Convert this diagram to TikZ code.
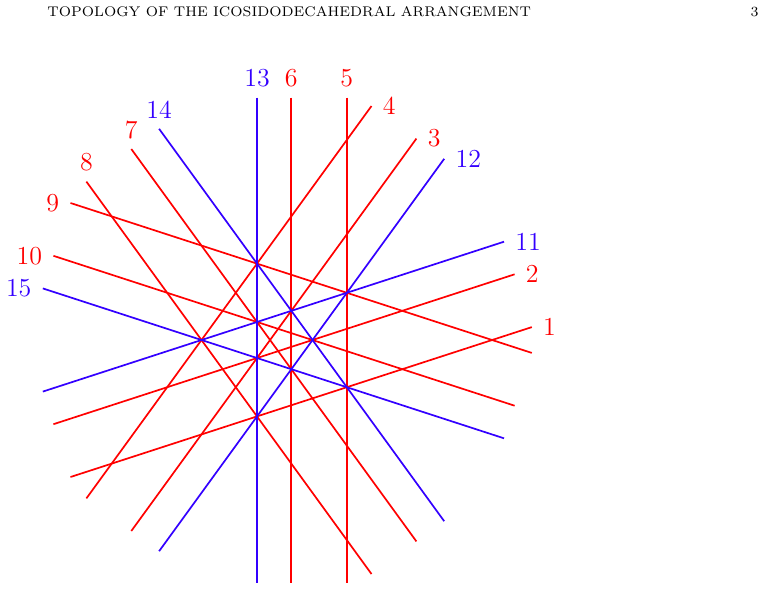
\documentclass[tikz,border=0pt]{standalone}
\usepackage{xcolor}
\usepackage{tikz}
\usetikzlibrary{positioning}

\definecolor{arrred}{RGB}{255,0,0}
\definecolor{arrblue}{RGB}{51,0,255}
\tikzset{
  redline/.style={draw=arrred, line width=1.7pt},
  blueline/.style={draw=arrblue, line width=1.7pt},
  lbl/.style={inner sep=0pt, font=\Large, scale=1.8},
}

\begin{document}
\begin{tikzpicture}[x=1pt, y=-1pt]
    \useasboundingbox (0,0) rectangle (766,590);

    \node[anchor=base west, font=\scriptsize, scale=2, inner sep=0pt] (head) at (47,16) {TOPOLOGY OF THE ICOSIDODECAHEDRAL ARRANGEMENT};
    \node[anchor=base east, font=\scriptsize, scale=2, inner sep=0pt] (page) at (759,16) {3};

    % vertical lines
    \coordinate (a13) at (257,97.5);   \coordinate (b13) at (257,582.5);
    \coordinate (a6) at (291.3,97.5);  \coordinate (b6) at (291.3,582.5);
    \coordinate (a5) at (346.8,97.5);  \coordinate (b5) at (346.8,582.5);

    % rising lines
    \coordinate (a4) at (371.5,106.0);  \coordinate (b4) at (86.4,498.4);
    \coordinate (a3) at (416.4,138.6);  \coordinate (b3) at (131.3,531.0);
    \coordinate (a12) at (444.2,158.8); \coordinate (b12) at (159.1,551.2);
    \coordinate (a11) at (504.0,241.7); \coordinate (b11) at (42.8,391.6);
    \coordinate (a2) at (514.6,274.3);  \coordinate (b2) at (53.4,424.2);
    \coordinate (a1) at (531.8,327.1);  \coordinate (b1) at (70.5,477.0);

    % falling lines
    \coordinate (a9) at (70.5,203.0);   \coordinate (b9) at (531.8,352.9);
    \coordinate (a10) at (53.4,255.8);  \coordinate (b10) at (514.6,405.7);
    \coordinate (a15) at (42.8,288.4);  \coordinate (b15) at (504.0,438.3);
    \coordinate (a14) at (159.1,128.8); \coordinate (b14) at (444.2,521.2);
    \coordinate (a7) at (131.3,149.0);  \coordinate (b7) at (416.4,541.4);
    \coordinate (a8) at (86.4,181.6);   \coordinate (b8) at (371.5,574.0);

    \draw[redline] (a6) -- (b6);
    \draw[redline] (a5) -- (b5);
    \draw[redline] (a4) -- (b4);
    \draw[redline] (a3) -- (b3);
    \draw[redline] (a2) -- (b2);
    \draw[redline] (a1) -- (b1);
    \draw[redline] (a9) -- (b9);
    \draw[redline] (a10) -- (b10);
    \draw[redline] (a7) -- (b7);
    \draw[redline] (a8) -- (b8);
    \draw[blueline] (a13) -- (b13);
    \draw[blueline] (a12) -- (b12);
    \draw[blueline] (a11) -- (b11);
    \draw[blueline] (a15) -- (b15);
    \draw[blueline] (a14) -- (b14);

    \node[lbl, arrblue, above=10pt of a13] (l13) {13};
    \node[lbl, arrred, above=10pt of a6] (l6) {6};
    \node[lbl, arrred, above=10pt of a5] (l5) {5};
    \node[lbl, arrred, right=11pt of a4] (l4) {4};
    \node[lbl, arrred, right=11pt of a3] (l3) {3};
    \node[lbl, arrblue, right=11pt of a12] (l12) {12};
    \node[lbl, arrblue, right=11pt of a11] (l11) {11};
    \node[lbl, arrred, right=11pt of a2] (l2) {2};
    \node[lbl, arrred, right=11pt of a1] (l1) {1};
    \node[lbl, arrred, left=11pt of a9] (l9) {9};
    \node[lbl, arrred, left=11pt of a10] (l10) {10};
    \node[lbl, arrblue, left=11pt of a15] (l15) {15};
    \node[lbl, arrblue, above=10pt of a14] (l14) {14};
    \node[lbl, arrred, above=10pt of a7] (l7) {7};
    \node[lbl, arrred, above=10pt of a8] (l8) {8};
\end{tikzpicture}
\end{document}
